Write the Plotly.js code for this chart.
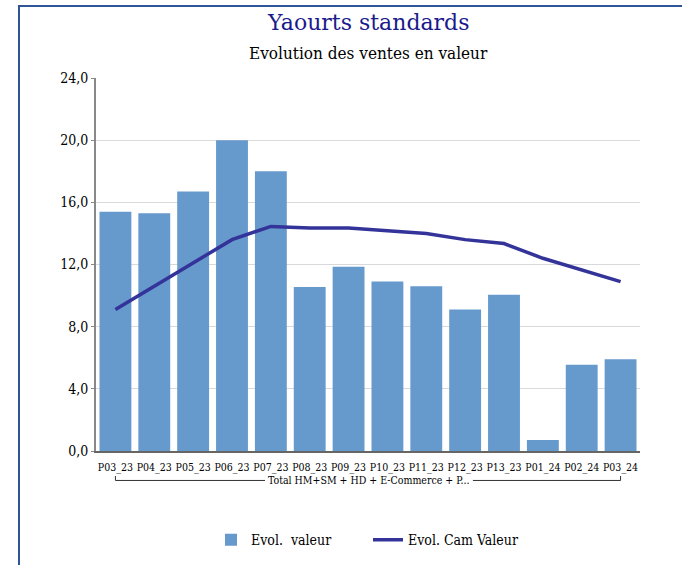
<!DOCTYPE html>
<html>
<head>
<meta charset="utf-8">
<script src="https://cdn.plot.ly/plotly-3.0.1.min.js"></script>
<style>
html,body{margin:0;padding:0;background:#fff;}
#frame{position:absolute;left:18px;top:5px;width:700px;height:600px;border-left:2px solid #2f5597;border-top:2px solid #2f5597;pointer-events:none;}
#chart{width:682px;height:565px;}
</style>
</head>
<body>
<div id="chart"></div>
<div id="frame"></div>
<script>
const categories = ["P03_23","P04_23","P05_23","P06_23","P07_23","P08_23","P09_23","P10_23","P11_23","P12_23","P13_23","P01_24","P02_24","P03_24"];
const evolValeur = [15.4,15.3,16.7,20.0,18.0,10.55,11.85,10.9,10.6,9.1,10.05,0.7,5.55,5.9];
const evolCamValeur = [9.1,10.6,12.1,13.6,14.45,14.35,14.35,14.2,14.0,13.6,13.35,12.4,11.65,10.9];
const groupLabel = "Total HM+SM + HD + E-Commerce + P...";
const chartTitle = "Yaourts standards";
const chartSubtitle = "Evolution des ventes en valeur";
const serif = "DejaVu Serif Condensed";
const serifWide = "DejaVu Serif";

const traces = [
  {type:"bar", x:categories, y:evolValeur, name:"Evol.\u00a0 valeur",
   marker:{color:"#6699cc"}},
  {type:"scatter", mode:"lines", x:categories, y:evolCamValeur, name:"Evol. Cam Valeur",
   line:{color:"#333399", width:3.5}}
];
const n = categories.length;
const layout = {
  width:682, height:565,
  margin:{l:96, r:42, t:78, b:114, autoexpand:false},
  paper_bgcolor:"#fff", plot_bgcolor:"#fff",
  font:{family:serif, size:12, color:"#000"},
  separators:", ",
  bargap:0.18,
  showlegend:true,
  legend:{orientation:"h", x:0.5, xanchor:"center", y:-0.239, yanchor:"middle",
          font:{family:serif, size:14}, itemwidth:30, entrywidth:112, traceorder:"normal"},
  xaxis:{type:"category", automargin:false, showgrid:false, showline:true, linecolor:"#666", linewidth:2, tickangle:0,
         ticks:"outside", ticklen:5, tickcolor:"rgba(0,0,0,0)", tickfont:{family:serif, size:10.5}, range:[-0.5, n-0.5]},
  yaxis:{range:[0,24], dtick:4, tickformat:".1f", automargin:false, showgrid:true, gridcolor:"#d9d9d9",
         gridwidth:1, showline:true, linecolor:"#888", linewidth:2, zeroline:false,
         ticks:"outside", ticklen:3, tickcolor:"#888", tickfont:{family:serif, size:14}},
  annotations:[
    {text:chartTitle, xref:"paper", yref:"paper", x:0.5, y:1.15, xanchor:"center", yanchor:"middle",
     showarrow:false, font:{family:serifWide, size:22, color:"#1a1a8c"}},
    {text:chartSubtitle, xref:"paper", yref:"paper", x:0.5, y:1.068, xanchor:"center", yanchor:"middle",
     showarrow:false, font:{family:serif, size:17, color:"#000"}},
    {text:groupLabel, xref:"x", yref:"paper", x:(n-1)/2, y:-0.077, xanchor:"center", yanchor:"middle",
     showarrow:false, borderpad:0, font:{family:serif, size:10.5, color:"#000"}}
  ]
};
// bracket under the category labels, with a gap for the group label
layout.shapes = [
  {type:"line", xref:"x", yref:"paper", x0:0, x1:3.85, y0:-0.079, y1:-0.079, line:{color:"#333", width:1}},
  {type:"line", xref:"x", yref:"paper", x0:9.2, x1:n-1, y0:-0.079, y1:-0.079, line:{color:"#333", width:1}},
  {type:"line", xref:"x", yref:"paper", x0:0, x1:0, y0:-0.079, y1:-0.067, line:{color:"#333", width:1}},
  {type:"line", xref:"x", yref:"paper", x0:n-1, x1:n-1, y0:-0.079, y1:-0.067, line:{color:"#333", width:1}}
];
Plotly.newPlot("chart", traces, layout, {displayModeBar:false, staticPlot:true});
</script>
</body>
</html>
